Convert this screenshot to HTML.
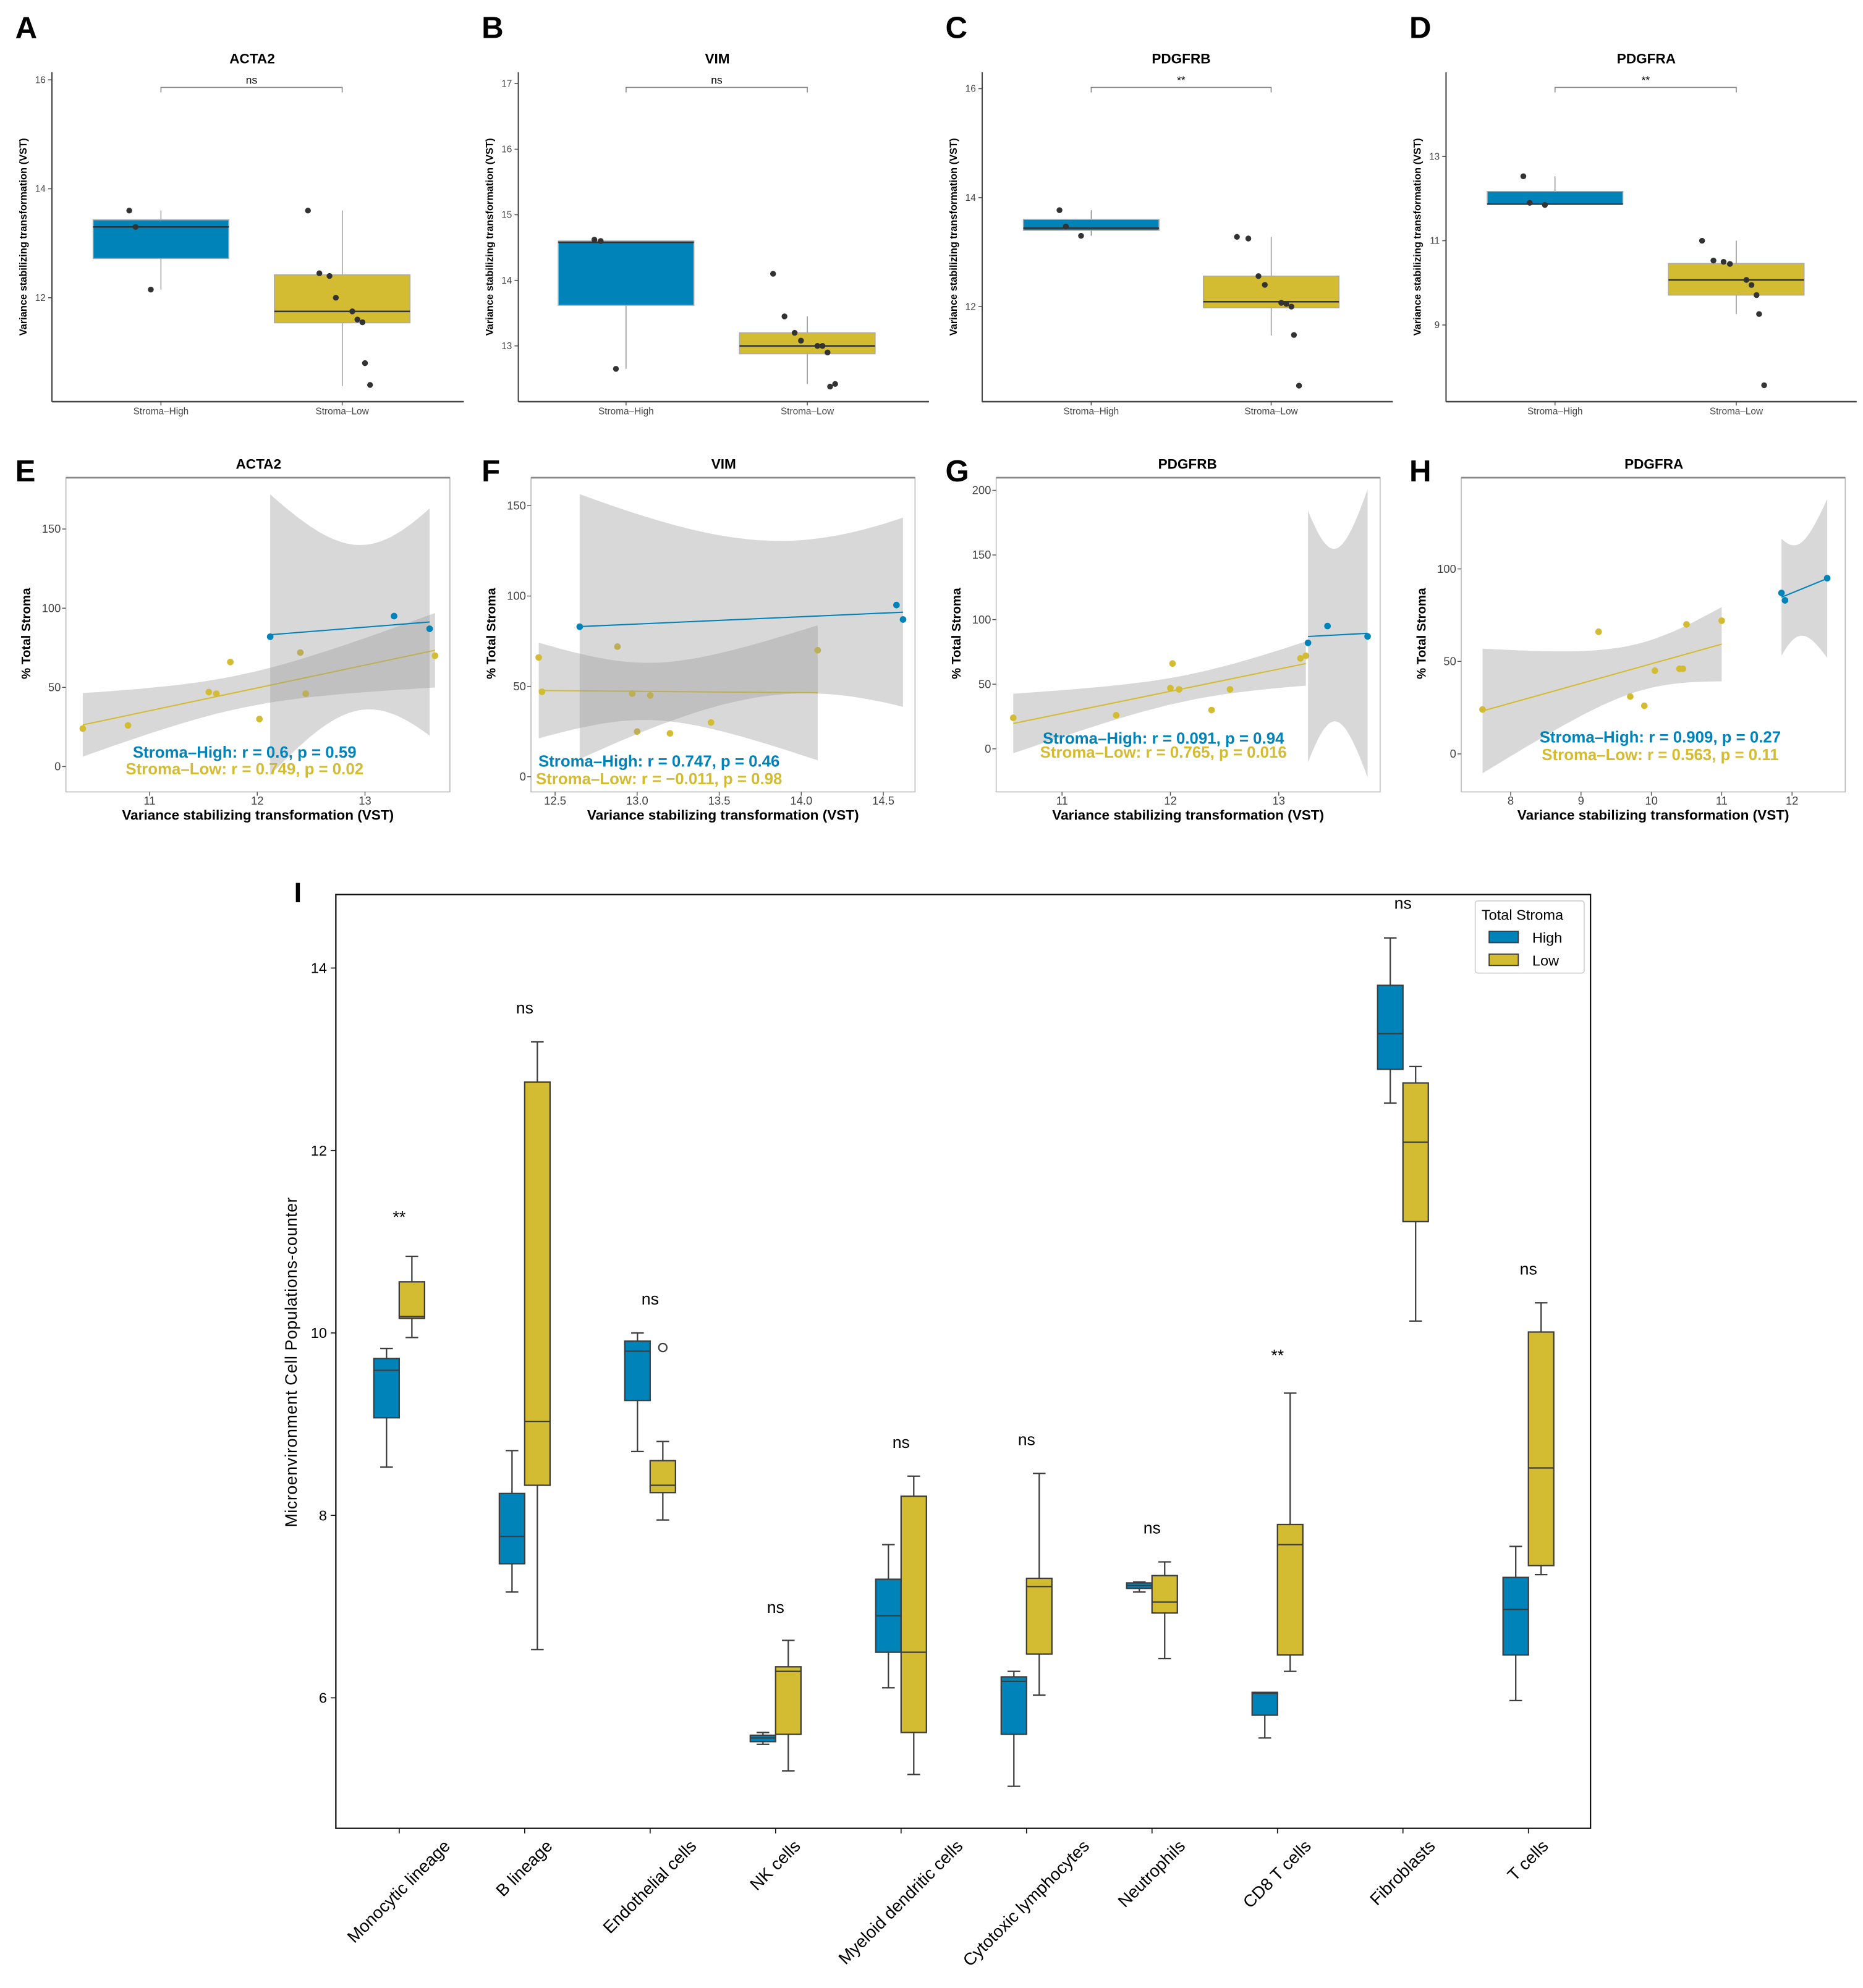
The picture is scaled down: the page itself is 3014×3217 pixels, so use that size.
<!DOCTYPE html>
<html><head><meta charset="utf-8"><style>
html,body{margin:0;padding:0;background:#fff}
svg{display:block}
text{font-family:"Liberation Sans",Arial,sans-serif}
.nar{font-family:"Liberation Sans Narrow","Liberation Sans",sans-serif}
</style></head><body>
<svg id="fig" xmlns="http://www.w3.org/2000/svg" width="3014" height="3217" viewBox="0 0 1470 1569">
<rect x="0" y="0" width="1470" height="1569" fill="#fff"/>
<g id="gtop"></g><g id="gmid"></g><g id="gbot"></g>
</svg>
<script>
// ---------- Top row boxplot data ----------
const boxGroups = ["Stroma–High","Stroma–Low"];
const boxTitles = ["ACTA2","VIM","PDGFRB","PDGFRA"];
const boxSig = ["ns","ns","**","**"];
const boxTicksA = [12,14,16], boxTicksB = [13,14,15,16,17], boxTicksC = [12,14,16], boxTicksD = [9,11,13];
const statsA_high = [12.15,12.72,13.3,13.43,13.6], statsA_low = [10.38,11.54,11.75,12.42,13.6];
const statsB_high = [12.65,13.62,14.58,14.6,14.6], statsB_low = [12.42,12.88,13.0,13.2,13.45];
const statsC_high = [13.3,13.4,13.44,13.6,13.77], statsC_low = [11.47,11.98,12.09,12.56,13.28];
const statsD_high = [11.85,11.87,11.87,12.17,12.53], statsD_low = [9.26,9.71,10.07,10.46,11.0];
const ptsA_high = [13.6,13.3,12.15], ptsA_low = [13.6,12.45,12.4,12.0,11.75,11.6,11.55,10.8,10.4];
const ptsB_high = [14.62,14.6,12.65], ptsB_low = [14.1,13.45,13.2,13.08,13.0,13.0,12.9,12.38,12.42];
const ptsC_high = [13.77,13.47,13.3], ptsC_low = [13.28,13.25,12.56,12.4,12.07,12.05,12.0,11.48,10.55];
const ptsD_high = [12.53,11.9,11.85], ptsD_low = [11.0,10.53,10.5,10.45,10.07,9.95,9.71,9.26,7.57];

// ---------- Middle row scatter data ----------
const scTitles = ["ACTA2","VIM","PDGFRB","PDGFRA"];
const eHighX=[12.12,13.27,13.6], eHighY=[82,95,87];
const eLowX=[10.38,10.8,11.55,11.62,11.75,12.02,12.4,12.45,13.65], eLowY=[24,26,47,46,66,30,72,46,70];
const fHighX=[12.65,14.58,14.62], fHighY=[83,95,87];
const fLowX=[12.4,12.42,12.88,12.97,13.0,13.08,13.2,13.45,14.1], fLowY=[66,47,72,46,25,45,24,30,70];
const gHighX=[13.27,13.45,13.82], gHighY=[82,95,87];
const gLowX=[10.55,11.5,12.0,12.08,12.02,12.38,12.55,13.2,13.25], gLowY=[24,26,47,46,66,30,46,70,72];
const hHighX=[11.85,11.9,12.5], hHighY=[87,83,95];
const hLowX=[7.6,9.25,9.7,9.9,10.05,10.4,10.45,10.5,11.0], hLowY=[24,66,31,26,45,46,46,70,72];
const eXTicks=[11,12,13], fXTicks=[12.5,13.0,13.5,14.0,14.5], gXTicks=[11,12,13], hXTicks=[8,9,10,11,12];
const eYTicks=[0,50,100,150], fYTicks=[0,50,100,150], gYTicks=[0,50,100,150,200], hYTicks=[0,50,100];
const scHighText=["Stroma–High: r = 0.6, p = 0.59","Stroma–High: r = 0.747, p = 0.46","Stroma–High: r = 0.091, p = 0.94","Stroma–High: r = 0.909, p = 0.27"];
const scLowText=["Stroma–Low: r = 0.749, p = 0.02","Stroma–Low: r = −0.011, p = 0.98","Stroma–Low: r = 0.765, p = 0.016","Stroma–Low: r = 0.563, p = 0.11"];

// ---------- Bottom panel I data ----------
const cellTypes=["Monocytic lineage","B lineage","Endothelial cells","NK cells","Myeloid dendritic cells","Cytotoxic lymphocytes","Neutrophils","CD8 T cells","Fibroblasts","T cells"];
const iHigh=[[8.53,9.07,9.59,9.72,9.83],[7.16,7.47,7.77,8.24,8.71],[8.70,9.26,9.80,9.91,10.0],[5.49,5.52,5.56,5.59,5.62],[6.11,6.50,6.90,7.30,7.68],[5.03,5.60,6.18,6.23,6.29],[7.16,7.20,7.23,7.26,7.27],[5.56,5.81,6.05,6.06,6.06],[12.52,12.89,13.28,13.81,14.33],[5.97,6.47,6.97,7.32,7.66]];
const iLow=[[9.95,10.16,10.18,10.56,10.84],[6.53,8.33,9.03,12.75,13.19],[7.95,8.25,8.33,8.60,8.81],[5.20,5.60,6.29,6.34,6.63],[5.16,5.62,6.50,8.21,8.43],[6.03,6.48,7.22,7.31,8.46],[6.43,6.93,7.05,7.34,7.49],[6.29,6.47,7.68,7.90,9.34],[10.13,11.22,12.09,12.74,12.92],[7.35,7.45,8.52,10.01,10.33]];
const iSig=["**","ns","ns","ns","ns","ns","ns","**","ns","ns"];
const iSigVal=[11.28,13.57,10.38,7.0,8.81,8.84,7.87,9.76,14.72,10.71];
const iOutlierCat=[2], iOutlierVal=[9.84];
const iYTicks=[6,8,10,12,14];

const NS="http://www.w3.org/2000/svg";
const BLUE="#0083b9", YEL="#d3bc31";
function mk(parent,tag,attrs,txt){const e=document.createElementNS(NS,tag);for(const k in attrs)e.setAttribute(k,attrs[k]);if(txt!==undefined)e.textContent=txt;parent.appendChild(e);return e;}

// ---------- Top row ----------
const topG=document.getElementById('gtop');
const boxCfg=[
 {L:41,R:366,cats:[127,270],y0:235,v0:12,ppu:43,ticks:boxTicksA,st:[statsA_high,statsA_low],pts:[ptsA_high,ptsA_low],letter:"A",lx:12,tx:199},
 {L:409,R:733,cats:[494,637],y0:273,v0:13,ppu:51.75,ticks:boxTicksB,st:[statsB_high,statsB_low],pts:[ptsB_high,ptsB_low],letter:"B",lx:380,tx:566},
 {L:775,R:1099,cats:[861,1003],y0:242,v0:12,ppu:43,ticks:boxTicksC,st:[statsC_high,statsC_low],pts:[ptsC_high,ptsC_low],letter:"C",lx:746,tx:932},
 {L:1141,R:1465,cats:[1227,1370],y0:190,v0:11,ppu:33.25,ticks:boxTicksD,st:[statsD_high,statsD_low],pts:[ptsD_high,ptsD_low],letter:"D",lx:1112,tx:1299}];
const jit=[[-25,-20,-8],[-27,-18,-10,-5,8,12,16,18,22]];
boxCfg.forEach((c,i)=>{
 const g=mk(topG,'g',{});
 
 
 const Y=v=>c.y0-(v-c.v0)*c.ppu;
 const lt=mk(g,'text',{x:c.lx,y:30,'font-size':24,'font-weight':'bold'},c.letter);
  
 const tt=mk(g,'text',{x:c.tx,y:50,'font-size':11,'font-weight':'bold','text-anchor':'middle'},boxTitles[i]);
  
 mk(g,'line',{x1:c.L,y1:57,x2:c.L,y2:317,stroke:'#444','stroke-width':1});
 mk(g,'line',{x1:c.L,y1:317,x2:c.R,y2:317,stroke:'#444','stroke-width':1.2});
 c.ticks.forEach(t=>{mk(g,'line',{x1:c.L-3,x2:c.L,y1:Y(t),y2:Y(t),stroke:'#444','stroke-width':0.7});
  const tl=mk(g,'text',{x:c.L-5,y:Y(t)+2.5,'font-size':7.5,'text-anchor':'end',fill:'#444',class:'nar'},t);
   });
 const yl=mk(g,'text',{transform:`translate(${c.L-20},187) rotate(-90)`,'font-size':8,'font-weight':'bold','text-anchor':'middle'},'Variance stabilizing transformation (VST)');
  
 mk(g,'path',{d:`M${c.cats[0]},73 V69 H${c.cats[1]} V73`,fill:'none',stroke:'#888','stroke-width':0.8});
 const sg=mk(g,'text',{x:(c.cats[0]+c.cats[1])/2,y:66,'font-size':8.5,'text-anchor':'middle',class:'nar'},boxSig[i]);
  
 [0,1].forEach(k=>{
  const s=c.st[k],x=c.cats[k],w=107,col=k?YEL:BLUE;
  mk(g,'line',{x1:x,x2:x,y1:Y(s[0]),y2:Y(s[4]),stroke:'#777','stroke-width':0.6});
  const b=mk(g,'rect',{x:x-w/2,y:Y(s[3]),width:w,height:Y(s[1])-Y(s[3]),fill:col,stroke:'#aaa','stroke-width':0.8});
   
  mk(g,'line',{x1:x-w/2,x2:x+w/2,y1:Y(s[2]),y2:Y(s[2]),stroke:'#333','stroke-width':1.2});
  c.pts[k].forEach((v,j)=>{const p=mk(g,'circle',{cx:x+jit[k][j%jit[k].length],cy:Y(v),r:2.3,fill:'#333'});
    });
  mk(g,'line',{x1:x,x2:x,y1:317,y2:320,stroke:'#444','stroke-width':0.7});
  const xl=mk(g,'text',{x:x,y:327,'font-size':7.5,'text-anchor':'middle',fill:'#444',class:'nar'},boxGroups[k]);
   
 });
});

// ---------- Middle row ----------
const midG=document.getElementById('gmid');
const tTab=[12.706,4.303,3.182,2.776,2.571,2.447,2.365,2.306,2.262,2.228];
const scCfg=[
 {L:52,R:355,x0:11,px0:118,ppx:85,y0:605,ppy:1.25,xt:eXTicks,yt:eYTicks,hx:eHighX,hy:eHighY,lx:eLowX,ly:eLowY,letter:"E",lett:12,tx:204,ty:[598,611],tcx:193},
 {L:419,R:722,x0:12.5,px0:438,ppx:129.5,y0:613,ppy:1.426,xt:fXTicks,yt:fYTicks,hx:fHighX,hy:fHighY,lx:fLowX,ly:fLowY,letter:"F",lett:380,tx:571,ty:[605,619],tcx:520,dec:1},
 {L:786,R:1089,x0:11,px0:838,ppx:85.5,y0:591,ppy:1.02,xt:gXTicks,yt:gYTicks,hx:gHighX,hy:gHighY,lx:gLowX,ly:gLowY,letter:"G",lett:746,tx:937,ty:[587,598],tcx:918},
 {L:1153,R:1456,x0:8,px0:1192,ppx:55.5,y0:595,ppy:1.46,xt:hXTicks,yt:hYTicks,hx:hHighX,hy:hHighY,lx:hLowX,ly:hLowY,letter:"H",lett:1112,tx:1305,ty:[586,600],tcx:1310}];
const PTOP=377,PBOT=625;
function fit(xs,ys){const n=xs.length,mx=xs.reduce((a,b)=>a+b)/n,my=ys.reduce((a,b)=>a+b)/n;
 let sxx=0,sxy=0;xs.forEach((x,i)=>{sxx+=(x-mx)**2;sxy+=(x-mx)*(ys[i]-my);});
 const b=sxy/sxx,a=my-b*mx;let sse=0;xs.forEach((x,i)=>{sse+=(ys[i]-a-b*x)**2;});
 const s=Math.sqrt(sse/(n-2));return {a,b,mx,sxx,s,n,t:tTab[n-3]};}
scCfg.forEach((c,i)=>{
 const g=mk(midG,'g',{});
 
 
 const X=v=>c.px0+(v-c.x0)*c.ppx, Y=v=>c.y0-v*c.ppy;
 const cid='clip'+i;
 const cp=mk(g,'clipPath',{id:cid});mk(cp,'rect',{x:c.L,y:PTOP,width:c.R-c.L,height:PBOT-PTOP});
 mk(g,'rect',{x:c.L,y:PTOP,width:c.R-c.L,height:PBOT-PTOP,fill:'#fff',stroke:'#bbb','stroke-width':0.8});
 mk(g,'line',{x1:c.L,x2:c.R,y1:PTOP,y2:PTOP,stroke:'#888','stroke-width':1.3});
 const lt=mk(g,'text',{x:c.lett,y:380,'font-size':24,'font-weight':'bold'},c.letter);
  
 const tt=mk(g,'text',{x:c.tx,y:370,'font-size':11,'font-weight':'bold','text-anchor':'middle'},scTitles[i]);
  
 const pg=mk(g,'g',{'clip-path':`url(#${cid})`});
 [[c.lx,c.ly,YEL],[c.hx,c.hy,BLUE]].forEach(([xs,ys,col])=>{
  const f=fit(xs,ys),x1=Math.min(...xs),x2=Math.max(...xs),N=40;let up=[],lo=[];
  for(let k=0;k<=N;k++){const x=x1+(x2-x1)*k/N,yh=f.a+f.b*x,se=f.s*Math.sqrt(1/f.n+(x-f.mx)**2/f.sxx)*f.t;
   up.push(X(x).toFixed(1)+','+Y(yh+se).toFixed(1));lo.unshift(X(x).toFixed(1)+','+Y(yh-se).toFixed(1));}
  const rb=mk(pg,'polygon',{points:up.concat(lo).join(' '),fill:'#999','fill-opacity':0.38});
   
  const ln=mk(pg,'line',{x1:X(x1),y1:Y(f.a+f.b*x1),x2:X(x2),y2:Y(f.a+f.b*x2),stroke:col,'stroke-width':1});
   
  xs.forEach((x,k)=>{const p=mk(pg,'circle',{cx:X(x),cy:Y(ys[k]),r:2.6,fill:col});
    });
 });
 c.xt.forEach(t=>{mk(g,'line',{x1:X(t),x2:X(t),y1:PBOT,y2:PBOT+3,stroke:'#555','stroke-width':0.7});
  const tl=mk(g,'text',{x:X(t),y:PBOT+10,'font-size':9,'text-anchor':'middle',fill:'#444',class:'nar'},c.dec?t.toFixed(1):t);
   });
 c.yt.forEach(t=>{mk(g,'line',{x1:c.L-3,x2:c.L,y1:Y(t),y2:Y(t),stroke:'#555','stroke-width':0.7});
  const tl=mk(g,'text',{x:c.L-4,y:Y(t)+3,'font-size':9,'text-anchor':'end',fill:'#444',class:'nar'},t);
   });
 const xl=mk(g,'text',{x:(c.L+c.R)/2,y:647,'font-size':11,'font-weight':'bold','text-anchor':'middle'},'Variance stabilizing transformation (VST)');
  
 const yl=mk(g,'text',{transform:`translate(${c.L-28},500) rotate(-90)`,'font-size':10,'font-weight':'bold','text-anchor':'middle'},'% Total Stroma');
  
 const h=mk(g,'text',{x:c.tcx,y:c.ty[0],'font-size':12.6,'font-weight':'bold','text-anchor':'middle',fill:BLUE},scHighText[i]);
  
 const l=mk(g,'text',{x:c.tcx,y:c.ty[1],'font-size':12.6,'font-weight':'bold','text-anchor':'middle',fill:YEL},scLowText[i]);
  
});

// ---------- Panel I ----------
const botG=document.getElementById('gbot');
const IL=265,IR=1255,IT=706,IB=1443;
const IY=v=>1052-(v-10)*72;
const IX=k=>315+k*99;
const gi=mk(botG,'g',{});
 
const il=mk(gi,'text',{x:232,y:712,'font-size':22,'font-weight':'bold'},'I');
 
mk(gi,'rect',{x:IL,y:IT,width:IR-IL,height:IB-IT,fill:'none',stroke:'#111','stroke-width':1.1});
iYTicks.forEach(t=>{mk(gi,'line',{x1:IL-4,x2:IL,y1:IY(t),y2:IY(t),stroke:'#111','stroke-width':0.8});
 const tl=mk(gi,'text',{x:IL-7,y:IY(t)+4,'font-size':11.5,'text-anchor':'end'},t);
  });
const iyl=mk(gi,'text',{transform:'translate(234,1075) rotate(-90)','font-size':13,'text-anchor':'middle','letter-spacing':'0.3'},'Microenvironment Cell Populations-counter');
 
function ibox(s,x,col,nm){
 const w=20;
 mk(gi,'line',{x1:x,x2:x,y1:IY(s[0]),y2:IY(s[1]),stroke:'#3d3d3d','stroke-width':1.1});
 mk(gi,'line',{x1:x,x2:x,y1:IY(s[3]),y2:IY(s[4]),stroke:'#3d3d3d','stroke-width':1.1});
 mk(gi,'line',{x1:x-5,x2:x+5,y1:IY(s[0]),y2:IY(s[0]),stroke:'#3d3d3d','stroke-width':1.1});
 mk(gi,'line',{x1:x-5,x2:x+5,y1:IY(s[4]),y2:IY(s[4]),stroke:'#3d3d3d','stroke-width':1.1});
 const b=mk(gi,'rect',{x:x-w/2,y:IY(s[3]),width:w,height:Math.max(IY(s[1])-IY(s[3]),1),fill:col,stroke:'#3d3d3d','stroke-width':1.1});
  
 mk(gi,'line',{x1:x-w/2,x2:x+w/2,y1:IY(s[2]),y2:IY(s[2]),stroke:'#3d3d3d','stroke-width':1.1});
}
cellTypes.forEach((c,k)=>{
 const x=IX(k);
 ibox(iHigh[k],x-10,BLUE,'high-box');
 ibox(iLow[k],x+10,YEL,'low-box');
 const sg=mk(gi,'text',{x:x,y:IY(iSigVal[k])+5,'font-size':13,'text-anchor':'middle'},iSig[k]);
  
 mk(gi,'line',{x1:x,x2:x,y1:IB,y2:IB+4,stroke:'#111','stroke-width':0.8});
 const t=mk(gi,'text',{'font-size':13.5,'text-anchor':'middle'},c);
  
 let L=c.length*7;
 try{const m=t.getComputedTextLength();if(m>0)L=m;}catch(e){}
 const cy=IB+8+L*0.707/2+4;
 t.setAttribute('transform',`translate(${x},${cy}) rotate(-45)`);
 t.setAttribute('dy','4');
});
iOutlierCat.forEach((k,j)=>{const o=mk(gi,'circle',{cx:IX(k)+10,cy:IY(iOutlierVal[j]),r:3.2,fill:'none',stroke:'#3d3d3d','stroke-width':1.1});
  });
const lg=mk(gi,'g',{});
 
mk(lg,'rect',{x:1164,y:711,width:86,height:57,fill:'#fff',stroke:'#ccc','stroke-width':0.8,rx:2});
mk(lg,'text',{x:1169,y:726,'font-size':11.5},'Total Stroma');
const e1=mk(lg,'rect',{x:1175,y:735,width:23,height:9,fill:BLUE,stroke:'#3d3d3d','stroke-width':0.9});
 
mk(lg,'text',{x:1209,y:744,'font-size':11.5},'High');
const e2=mk(lg,'rect',{x:1175,y:753,width:23,height:9,fill:YEL,stroke:'#3d3d3d','stroke-width':0.9});
 
mk(lg,'text',{x:1209,y:762,'font-size':11.5},'Low');
</script>
</body></html>
